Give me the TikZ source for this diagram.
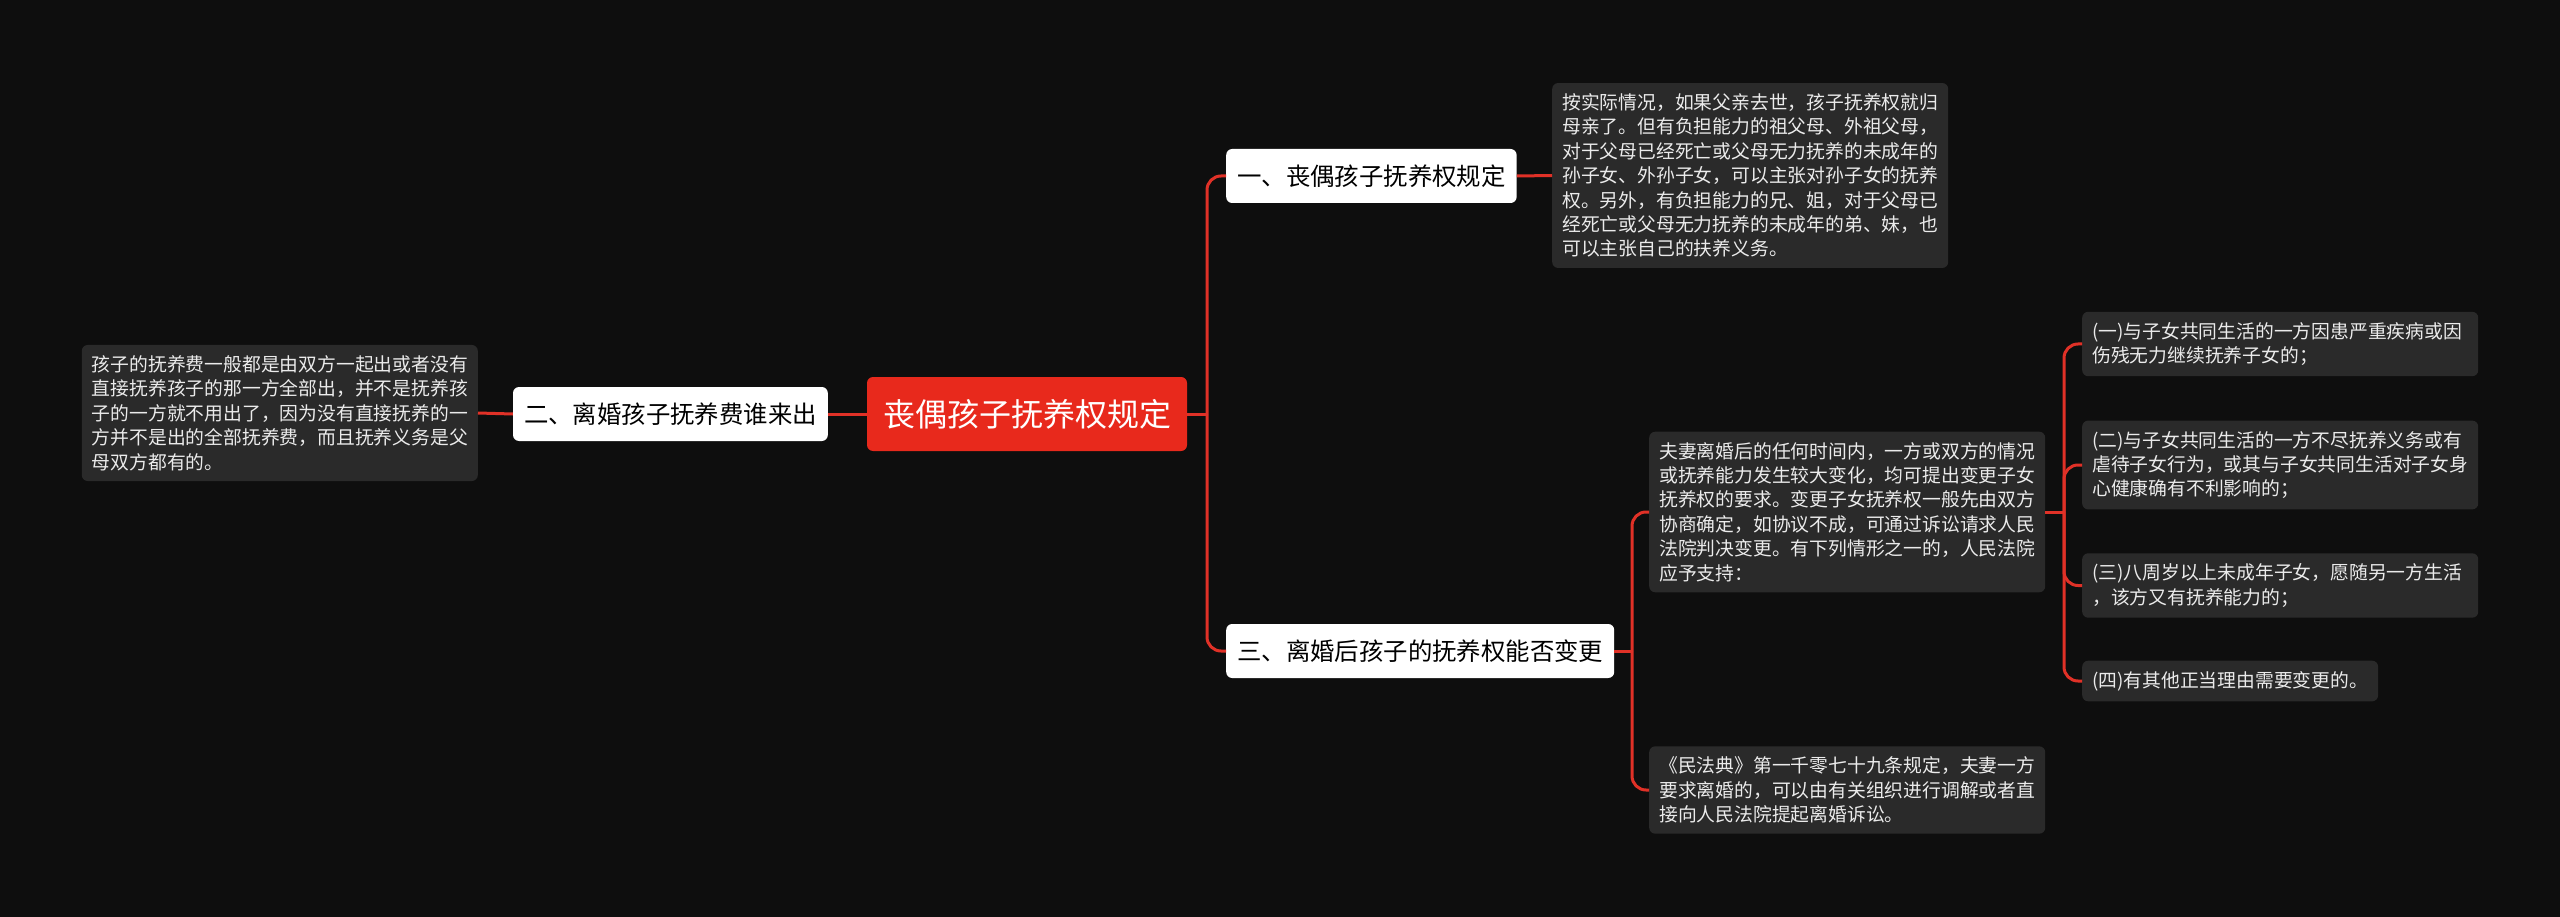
\documentclass[tikz,border=0pt]{standalone}
\usepackage{fontspec}
\usepackage{xcolor}
\usepackage{tikz}
\newfontfamily\cjk{Noto Sans CJK SC}
\definecolor{bgcol}{HTML}{0E0E0E}
\definecolor{leafcol}{HTML}{2A2A2A}
\definecolor{topiccol}{HTML}{E8291C}
\definecolor{linkcol}{HTML}{E03127}
\tikzset{
  rootbox/.style={fill=topiccol, rounded corners=6pt, text=white, font=\cjk\fontsize{32}{38}\selectfont, minimum height=74pt, inner xsep=16pt},
  branch/.style={fill=white, rounded corners=6pt, text=black, font=\cjk\fontsize{24.4}{30}\selectfont, minimum height=54pt, inner xsep=11pt},
  leafbox/.style={fill=leafcol, rounded corners=6pt, text=white!92!black, font=\cjk\fontsize{18.8}{24.4}\selectfont, align=left, inner xsep=10pt, inner ysep=10.5pt},
  wideleaf/.style={leafbox, text width=376pt},
  link/.style={draw=linkcol, line width=3pt, rounded corners=14pt}
}
\begin{document}
\begin{tikzpicture}[x=1pt,y=-1pt]
\fill[bgcol] (0,0) rectangle (2560,917);
\node[rootbox] (root) at (1027,414) {丧偶孩子抚养权规定};
\node[branch, anchor=west] (b1) at (1226,176) {一、丧偶孩子抚养权规定};
\node[branch, anchor=east] (b2) at (828,414) {二、离婚孩子抚养费谁来出};
\node[branch, anchor=west] (b3) at (1226,651) {三、离婚后孩子的抚养权能否变更};
\node[leafbox, anchor=west] (t1) at (1552,175.5) {按实际情况，如果父亲去世，孩子抚养权就归\\母亲了。但有负担能力的祖父母、外祖父母，\\对于父母已经死亡或父母无力抚养的未成年的\\孙子女、外孙子女，可以主张对孙子女的抚养\\权。另外，有负担能力的兄、姐，对于父母已\\经死亡或父母无力抚养的未成年的弟、妹，也\\可以主张自己的扶养义务。};
\node[leafbox, anchor=east] (t2) at (478,413) {孩子的抚养费一般都是由双方一起出或者没有\\直接抚养孩子的那一方全部出，并不是抚养孩\\子的一方就不用出了，因为没有直接抚养的一\\方并不是出的全部抚养费，而且抚养义务是父\\母双方都有的。};
\node[leafbox, anchor=west] (t3a) at (1649,512) {夫妻离婚后的任何时间内，一方或双方的情况\\或抚养能力发生较大变化，均可提出变更子女\\抚养权的要求。变更子女抚养权一般先由双方\\协商确定，如协议不成，可通过诉讼请求人民\\法院判决变更。有下列情形之一的，人民法院\\应予支持：};
\node[leafbox, anchor=west] (t3b) at (1649,790) {《民法典》第一千零七十九条规定，夫妻一方\\要求离婚的，可以由有关组织进行调解或者直\\接向人民法院提起离婚诉讼。};
\node[wideleaf, anchor=west] (s1) at (2082,344) {(一)与子女共同生活的一方因患严重疾病或因\\伤残无力继续抚养子女的；};
\node[wideleaf, anchor=west] (s2) at (2082,465) {(二)与子女共同生活的一方不尽抚养义务或有\\虐待子女行为，或其与子女共同生活对子女身\\心健康确有不利影响的；};
\node[wideleaf, anchor=west] (s3) at (2082,585.5) {(三)八周岁以上未成年子女，愿随另一方生活\\，该方又有抚养能力的；};
\node[leafbox, anchor=west] (s4) at (2082,681) {(四)有其他正当理由需要变更的。};
\coordinate (j0) at (1207,414);
\coordinate (j3) at (1632,651);
\coordinate (j4) at (2064,512);
\draw[link] (root.east) -- (j0);
\foreach \n in {b1,b3} \draw[link] (j0) |- (\n.west);
\draw[link] (root.west) -- (b2.east);
\draw[link] (b2.west) -- (t2.east);
\draw[link] (b1.east) -- (t1.west);
\draw[link] (b3.east) -- (j3);
\foreach \n in {t3a,t3b} \draw[link] (j3) |- (\n.west);
\draw[link] (t3a.east) -- (j4);
\foreach \n in {s1,s2,s3,s4} \draw[link] (j4) |- (\n.west);
\end{tikzpicture}
\end{document}
